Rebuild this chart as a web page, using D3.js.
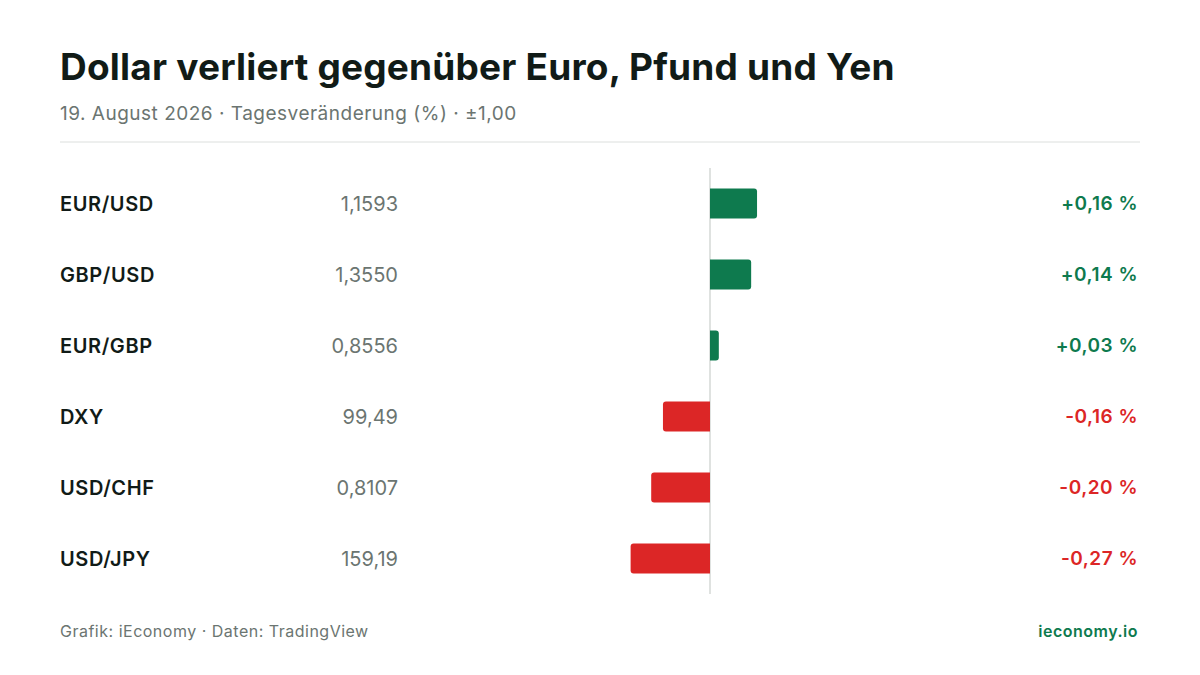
<!DOCTYPE html>
<html><head><meta charset="utf-8">
<script src="https://cdn.jsdelivr.net/npm/d3@7"></script>
<style>body{margin:0;background:#fff}svg{font-family:Inter,"Noto Sans",sans-serif}</style>
</head><body><svg id="c" width="1200" height="675"></svg>
<script>
const pairs = ["EUR/USD","GBP/USD","EUR/GBP","DXY","USD/CHF","USD/JPY"];
const prices = ["1,1593","1,3550","0,8556","99,49","0,8107","159,19"];
const changes = [0.16,0.14,0.03,-0.16,-0.20,-0.27];
const title = "Dollar verliert gegenüber Euro, Pfund und Yen";
const subtitle = "19. August 2026 · Tagesveränderung (%) · ±1,00";
const source = "Grafik: iEconomy · Daten: TradingView";
const brand = "ieconomy.io";

const svg = d3.select("#c");
const green="#0e7a4e", red="#dc2626";
svg.append("text").attr("x",60).attr("y",80).attr("font-size",37).attr("font-weight",700).attr("fill","#111b17").attr("letter-spacing",0.2).text(title);
svg.append("text").attr("x",60).attr("y",120).attr("font-size",19).attr("letter-spacing",0.5).attr("fill","#6b7571").text(subtitle);
svg.append("line").attr("x1",60).attr("x2",1140).attr("y1",142).attr("y2",142).attr("stroke","#dcdfdd");

const x = d3.scaleLinear().domain([-1,1]).range([416,1004]);
const y = d3.scaleBand().domain(pairs).range([168,594]).paddingInner(0.58).paddingOuter(0.29);
const cy = d=>y(d)+y.bandwidth()/2;

svg.append("line").attr("x1",x(0)).attr("x2",x(0)).attr("y1",168).attr("y2",594).attr("stroke","#d5d8d6").attr("stroke-width",1.5);

pairs.forEach((p,i)=>{
  const v=changes[i], c=v>=0?green:red, yc=cy(p);
  svg.append("text").attr("x",60).attr("y",yc).attr("dy","0.35em").attr("font-size",20).attr("letter-spacing",0.6).attr("font-weight",600).attr("fill","#111b17").text(p);
  svg.append("text").attr("x",398).attr("y",yc).attr("dy","0.35em").attr("text-anchor","end").attr("font-size",20).attr("fill","#6b7571").text(prices[i]);
  const x0=Math.min(x(0),x(v)), w=Math.abs(x(v)-x(0)), h=30, r=3;
  const left=v<0, yt=yc-h/2;
  const path = left
    ? `M${x(0)},${yt} H${x0+r} Q${x0},${yt} ${x0},${yt+r} V${yt+h-r} Q${x0},${yt+h} ${x0+r},${yt+h} H${x(0)} Z`
    : `M${x(0)},${yt} H${x0+w-r} Q${x0+w},${yt} ${x0+w},${yt+r} V${yt+h-r} Q${x0+w},${yt+h} ${x0+w-r},${yt+h} H${x(0)} Z`;
  svg.append("path").attr("d",path).attr("fill",c);
  const s=(v>=0?"+":"-")+Math.abs(v).toFixed(2).replace(".",",")+" %";
  svg.append("text").attr("x",1138).attr("y",yc).attr("dy","0.35em").attr("text-anchor","end").attr("font-size",19).attr("letter-spacing",0.5).attr("font-weight",600).attr("fill",c).text(s);
});

svg.append("text").attr("x",60).attr("y",637).attr("font-size",16).attr("letter-spacing",0.5).attr("fill","#6b7571").text(source);
svg.append("text").attr("x",1138).attr("y",637).attr("text-anchor","end").attr("font-size",16).attr("letter-spacing",0.5).attr("font-weight",600).attr("fill",green).text(brand);
</script></body></html>
